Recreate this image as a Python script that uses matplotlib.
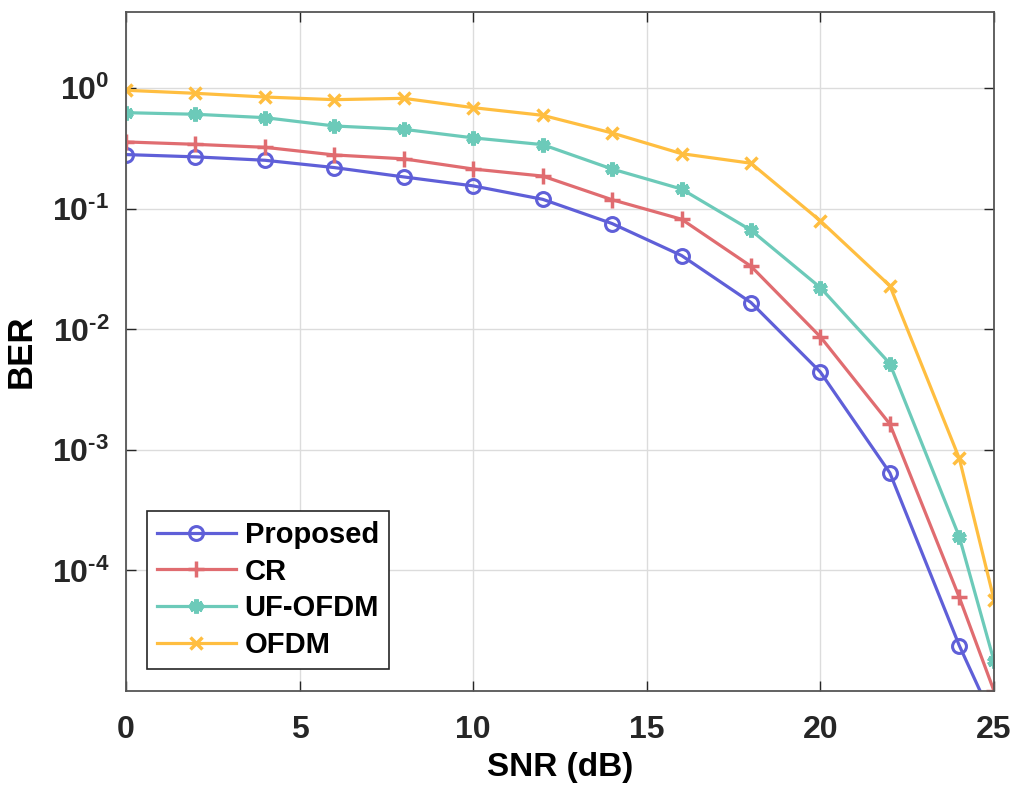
import numpy as np
import matplotlib.pyplot as plt
from matplotlib.ticker import NullLocator, FixedLocator

plt.rcParams['font.family'] = ['Liberation Sans', 'DejaVu Sans']
plt.rcParams['font.weight'] = 'bold'
plt.rcParams['mathtext.fontset'] = 'custom'
plt.rcParams['mathtext.rm'] = 'Liberation Sans:bold'
plt.rcParams['mathtext.default'] = 'rm'

snr = [0, 2, 4, 6, 8, 10, 12, 14, 16, 18, 20, 22, 24, 25]

ber_proposed = [0.282, 0.27, 0.253, 0.22, 0.184, 0.155, 0.12, 0.0755,
                0.041, 0.0167, 0.00442, 6.45e-4, 2.38e-5, 5.6e-6]
ber_cr = [0.359, 0.343, 0.324, 0.28, 0.26, 0.214, 0.187, 0.119,
          0.082, 0.0334, 0.00867, 1.64e-3, 5.98e-5, 1.0e-5]
ber_ufofdm = [0.628, 0.609, 0.571, 0.487, 0.457, 0.388, 0.341, 0.214,
              0.146, 0.0665, 0.0222, 5.2e-3, 1.9e-4, 1.77e-5]
ber_ofdm = [0.963, 0.909, 0.847, 0.805, 0.826, 0.691, 0.597, 0.426,
            0.287, 0.239, 0.0794, 0.023, 8.5e-4, 5.7e-5]

yticks = [1e-4, 1e-3, 1e-2, 1e-1, 1e0]
ytick_labels = [r'$10^{\text{-4}}$', r'$10^{\text{-3}}$', r'$10^{\text{-2}}$',
                r'$10^{\text{-1}}$', r'$10^{\text{0}}$']

fig = plt.figure(figsize=(10.14, 7.87), dpi=100)
ax = fig.add_axes([0.1243, 0.122, 0.856, 0.8628])

lw = 2.3
ax.semilogy(snr, ber_proposed, color='#5f5fd8', lw=lw, marker='o', ms=10,
            mfc='none', mew=2.2, label='Proposed')
ax.semilogy(snr, ber_cr, color='#e06c70', lw=lw, marker='+', ms=12,
            mew=2.5, label='CR')
ax.semilogy(snr, ber_ufofdm, color='#6ccab9', lw=lw, marker=(6, 2, 0), ms=10,
            mew=3.5, label='UF-OFDM')
ax.semilogy(snr, ber_ofdm, color='#ffbe40', lw=lw, marker='x', ms=9,
            mew=2.5, label='OFDM')

ax.set_xlim(0, 25)
ax.set_ylim(1e-5, 4.3)
ax.set_xticks([0, 5, 10, 15, 20, 25])
ax.yaxis.set_major_locator(FixedLocator(yticks))
ax.yaxis.set_minor_locator(NullLocator())
ax.set_yticklabels(ytick_labels)

ax.grid(True, color='#dcdcdc', lw=1)
ax.set_axisbelow(True)
ax.tick_params(direction='in', length=7, width=1, top=True, right=True,
               labelsize=23, colors='#262626')
ax.tick_params(axis='x', pad=17)
ax.tick_params(axis='y', pad=12)
for sp in ax.spines.values():
    sp.set_color('#555555')
    sp.set_linewidth(1.3)

ax.set_xlabel('SNR (dB)', fontsize=24, fontweight='bold', labelpad=5)
ax.set_ylabel('BER', fontsize=25, fontweight='bold', labelpad=10)

leg = ax.legend(loc='lower left', bbox_to_anchor=(0.024, 0.032), fontsize=21,
                frameon=True, fancybox=False, framealpha=1, edgecolor='#262626',
                handlelength=2.7, borderpad=0.35, labelspacing=0.3, handletextpad=0.3,
                borderaxespad=0)
leg.get_frame().set_linewidth(1.2)

fig.savefig('out.png', dpi=100)
